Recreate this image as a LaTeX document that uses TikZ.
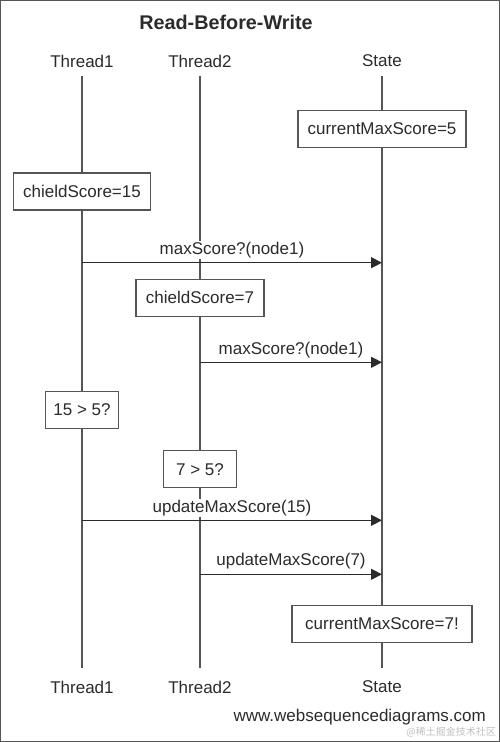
\documentclass[tikz,border=0pt]{standalone}
\usepackage{fontspec}
\setmainfont{Liberation Sans}
\newfontfamily\cjkfont{Noto Sans CJK SC}
\usetikzlibrary{arrows.meta}
\definecolor{ink}{HTML}{2B2B2B}
\definecolor{linec}{HTML}{555555}
\tikzset{
  lbl/.style={font=\fontsize{17}{20}\selectfont, text=ink, inner sep=1pt},
  notebox/.style={draw=linec, line width=1.1pt, fill=white, font=\fontsize{17}{20}\selectfont, text=ink, inner xsep=6pt, minimum height=37pt},
  lifeline/.style={draw=linec, line width=1.2pt},
  msg/.style={draw=linec, line width=1.2pt, -{Triangle[length=11pt,width=11pt]}, color=ink},
  msglbl/.style={font=\fontsize{17}{20}\selectfont, text=ink, fill=white, inner sep=1pt}
}
\begin{document}
\begin{tikzpicture}[x=1pt,y=-1pt]
\useasboundingbox (0,0) rectangle (500,742);
\draw[linec, line width=0.8pt] (0.5,0.5) rectangle (499.5,741.5);

\node[font=\bfseries\fontsize{19.8}{23}\selectfont, text=ink] (title) at (226,22) {Read-Before-Write};

% participants
\node[lbl] (t1top) at (82,61) {Thread1};
\node[lbl] (t2top) at (200,61) {Thread2};
\node[lbl] (sttop) at (382,61) {State};
\node[lbl] (t1bot) at (82,687) {Thread1};
\node[lbl] (t2bot) at (200,687) {Thread2};
\node[lbl] (stbot) at (382,687) {State};

\coordinate (t1s) at (82,76); \coordinate (t1e) at (82,668);
\coordinate (t2s) at (200,76); \coordinate (t2e) at (200,668);
\coordinate (sts) at (382,76); \coordinate (ste) at (382,668);
\draw[lifeline] (t1s) -- (t1e);
\draw[lifeline] (t2s) -- (t2e);
\draw[lifeline] (sts) -- (ste);

% notes
\node[notebox, minimum width=168pt] (n1) at (382,129) {currentMaxScore=5};
\node[notebox, minimum width=137pt] (n2) at (82,191.5) {chieldScore=15};

% message 1
\coordinate (m1a) at (82,262.7); \coordinate (m1b) at (382,262.7);
\draw[msg] (m1a) -- (m1b);
\node[msglbl] (m1l) at (232,250) {maxScore?(node1)};

\node[notebox, minimum width=128pt] (n3) at (200,297.7) {chieldScore=7};

% message 2
\coordinate (m2a) at (200,362.3); \coordinate (m2b) at (382,362.3);
\draw[msg] (m2a) -- (m2b);
\node[msglbl] (m2l) at (291,350) {maxScore?(node1)};

\node[notebox, minimum width=73pt] (n4) at (82,409.8) {15 > 5?};
\node[notebox, minimum width=73pt] (n5) at (200,469.3) {7 > 5?};

% message 3
\coordinate (m3a) at (82,520.3); \coordinate (m3b) at (382,520.3);
\draw[msg] (m3a) -- (m3b);
\node[msglbl] (m3l) at (232,508) {updateMaxScore(15)};

% message 4
\coordinate (m4a) at (200,574.3); \coordinate (m4b) at (382,574.3);
\draw[msg] (m4a) -- (m4b);
\node[msglbl] (m4l) at (291,561.5) {updateMaxScore(7)};

\node[notebox, minimum width=180pt] (n6) at (382,623.8) {currentMaxScore=7!};

\node[lbl, anchor=east] (web) at (487,717.5) {www.websequencediagrams.com};
\node[font=\cjkfont\fontsize{10}{11}\selectfont, text=black!25, anchor=east, inner sep=0pt] (wm) at (496,732.5) {@稀土掘金技术社区};
\end{tikzpicture}
\end{document}
